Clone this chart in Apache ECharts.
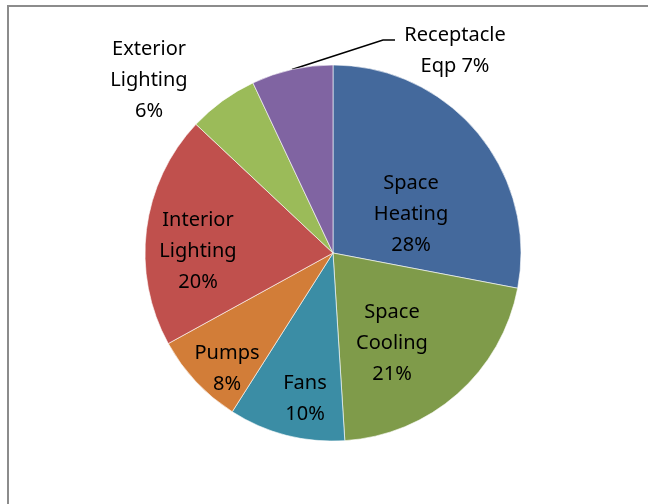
<!DOCTYPE html>
<html>
<head>
<meta charset="utf-8">
<style>
  html, body { margin: 0; padding: 0; background: #fff; }
  #chart { width: 648px; height: 504px; }
</style>
<script src="https://cdn.jsdelivr.net/npm/echarts@6/dist/echarts.min.js"></script>
</head>
<body>
<div id="chart"></div>
<script>
// End-use breakdown (percent of total energy)
const categories = ['Space Heating', 'Space Cooling', 'Fans', 'Pumps', 'Interior Lighting', 'Exterior Lighting', 'Receptacle Eqp'];
const shares = [28, 21, 10, 8, 20, 6, 7];
// Wrapped label text for each slice (value appended below)
const labelLines = ['Space\nHeating', 'Space\nCooling', 'Fans', 'Pumps', 'Interior\nLighting', 'Exterior\nLighting', 'Receptacle\nEqp'];

const sliceColors = ['#44699C', '#7F9B4A', '#3B8DA5', '#D27D38', '#C0504D', '#9BBB59', '#8064A2'];

// Label block centres (px)
const labelSpots = [[411, 214], [392, 343], [305, 399], [227, 369], [198, 251], [149, 80], [455, 51]];

const chart = echarts.init(document.getElementById('chart'), null, { renderer: 'canvas' });

const data = categories.map((name, i) => {
  const item = { name: name, value: shares[i], itemStyle: { color: sliceColors[i] } };
  if (i === 6) {
    item.label = { position: 'outside' };
    item.labelLine = { show: true, length: 10, length2: 10, lineStyle: { color: '#000', width: 1.6 } };
  }
  return item;
});

chart.setOption({
  animation: false,
  backgroundColor: '#fff',
  graphic: [{
    type: 'rect',
    shape: { x: 8, y: 6, width: 660, height: 520 },
    style: { fill: 'none', stroke: '#8c8c8c', lineWidth: 2 },
    silent: true
  }],
  series: [{
    type: 'pie',
    center: [333, 253],
    radius: 188,
    startAngle: 90,
    clockwise: true,
    silent: true,
    itemStyle: { borderColor: '#ffffff', borderWidth: 0.6 },
    label: {
      show: true,
      position: 'inside',
      color: '#000',
      fontFamily: 'Noto Sans',
      fontSize: 20,
      lineHeight: 31,
      align: 'center',
      formatter: p => {
        if (p.dataIndex === 6) return labelLines[6] + ' ' + p.value + '%';
        return labelLines[p.dataIndex] + '\n' + p.value + '%';
      }
    },
    labelLine: { show: false },
    labelLayout: params => {
      const s = labelSpots[params.dataIndex];
      const out = { x: s[0], y: s[1], align: 'center', verticalAlign: 'middle' };
      if (params.dataIndex === 6 && params.labelLinePoints) {
        const start = params.labelLinePoints[0];
        out.labelLinePoints = [start, [383, 40], [395, 40]];
      }
      return out;
    },
    data: data
  }]
});
</script>
</body>
</html>
